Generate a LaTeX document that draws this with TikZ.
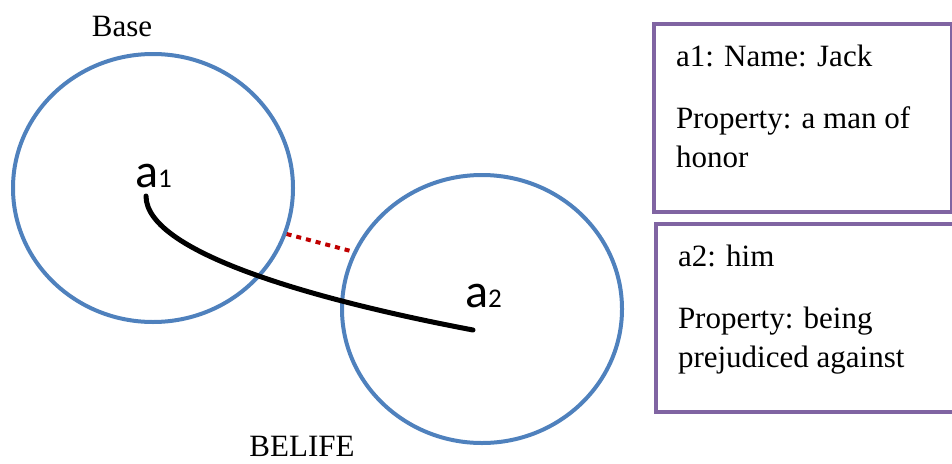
\documentclass[tikz,border=0pt]{standalone}
\usepackage{fontspec}
\setmainfont{Liberation Serif}
\newfontfamily\entityfont{Carlito}
\usepackage{tikz}
\usetikzlibrary{shapes.geometric}
\definecolor{circblue}{RGB}{79,129,189}
\definecolor{boxpurple}{RGB}{128,100,162}
\definecolor{linkred}{RGB}{192,0,0}

\begin{document}
\begin{tikzpicture}[x=1pt, y=-1pt,
    setcirc/.style={ellipse, draw=circblue, line width=4pt, minimum width=280pt, minimum height=268pt, inner sep=0pt},
    infobox/.style={draw=boxpurple, line width=4pt, anchor=north west, inner xsep=22pt, inner ysep=21pt},
    entity/.style={inner sep=0pt, anchor=base west, font=\entityfont},
    setlabel/.style={inner sep=0pt, anchor=base, font=\fontsize{31}{31}\selectfont}]
  \useasboundingbox (0,0) rectangle (952,463);

  % the two sets
  \node[setcirc] (base) at (153,188) {};
  \node[setcirc] (belife) at (482,309) {};
  \node[setlabel] (baselbl) at (122,36) {Base};
  \node[setlabel] (belifelbl) at (302,456) {BELIFE};

  % entities
  \node[entity] (a1) at (135,187) {\fontsize{48}{48}\selectfont a\fontsize{27}{27}\selectfont 1};
  \node[entity] (a2) at (465,307) {\fontsize{48}{48}\selectfont a\fontsize{27}{27}\selectfont 2};

  % link a1 -> a2
  \coordinate (s1) at (146,196);
  \coordinate (s2) at (473,330);
  \draw[black, line width=5pt, line cap=round] (s1) .. controls (146,255) and (330,303) .. (s2);

  % gap between the sets
  \draw[linkred, line width=4pt, dash pattern=on 5pt off 5pt] (base.-19.5) -- (belife.156);

  % descriptions
  \node[infobox] (info1) at (652,22) {\parbox[c][146pt][t]{254pt}{\fontsize{31}{39}\selectfont
    a1: Name: Jack\\[23pt]
    Property: a man of\\
    honor}};
  \node[infobox] (info2) at (654,222) {\parbox[c][146pt][t]{255pt}{\fontsize{31}{39}\selectfont
    a2: him\\[23pt]
    Property: being\\
    prejudiced against}};
\end{tikzpicture}
\end{document}
